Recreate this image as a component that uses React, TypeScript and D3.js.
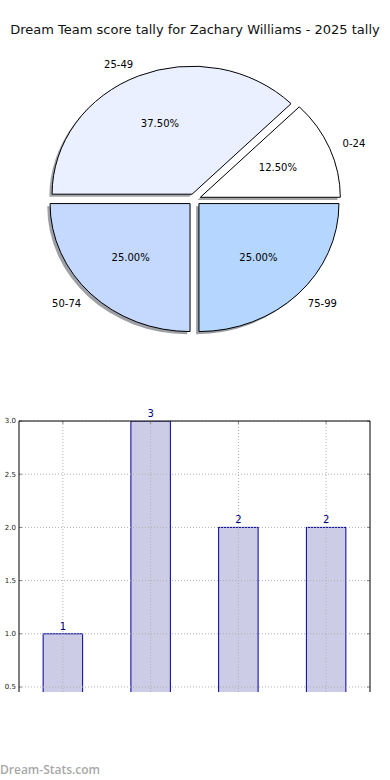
import { useEffect, useRef } from "react";
import * as d3 from "d3";

const TITLE = "Dream Team score tally for Zachary Williams - 2025 tally";

// Pie data
const pieLabels = ["0-24", "25-49", "50-74", "75-99"];
const pieValues = [1, 3, 2, 2];
const pieColors = ["#ffffff", "#eaf0ff", "#c5d9ff", "#b4d6ff"];

// Bar data
const barCategories = ["0-24", "25-49", "50-74", "75-99"];
const barValues = [1, 3, 2, 2];
const yTicks = [0.5, 1.0, 1.5, 2.0, 2.5, 3.0];

const W = 390;
const H = 780;

export default function App() {
  const svgRef = useRef<SVGSVGElement>(null);

  useEffect(() => {
    if (!svgRef.current) return;
    const svg = d3.select(svgRef.current);
    svg.selectAll("*").remove();

    const font = "'DejaVu Sans', sans-serif";

    svg
      .append("rect")
      .attr("width", W)
      .attr("height", H)
      .attr("fill", "#fff");

    // Titre
    svg
      .append("text")
      .attr("x", 195)
      .attr("y", 34)
      .attr("text-anchor", "middle")
      .style("font-family", font)
      .style("font-size", "13px")
      .style("fill", "#111")
      .text(TITLE);

    // ---- Camembert (ellipse, éclaté, avec ombre) ----
    const cx = 194.5;
    const cy = 199.5;
    const rx = 140;
    const ry = 128;
    const explode = 0.045;
    const total = d3.sum(pieValues);

    const data = pieLabels.map((label, i) => ({
      label,
      value: pieValues[i],
      color: pieColors[i],
    }));

    // angles matplotlib : départ à 0 (3 h), sens antihoraire
    let acc = 0;
    const slices = data.map((d) => {
      const a0 = (acc / total) * 2 * Math.PI;
      acc += d.value;
      const a1 = (acc / total) * 2 * Math.PI;
      return { ...d, a0, a1, mid: (a0 + a1) / 2 };
    });

    // conversion vers les angles de d3.arc (0 en haut, sens horaire)
    const toD3 = (a: number) => Math.PI / 2 - a;
    const arc = d3.arc<any>().innerRadius(0).outerRadius(1);

    const pieG = svg.append("g");

    const drawSlice = (
      s: (typeof slices)[number],
      ox: number,
      oy: number,
      fill: string,
      stroke: string | null,
      opacity: number
    ) => {
      const ex = cx + explode * rx * Math.cos(s.mid) + ox;
      const ey = cy - explode * ry * Math.sin(s.mid) + oy;
      pieG
        .append("path")
        .attr("transform", `translate(${ex},${ey}) scale(${rx},${ry})`)
        .attr("d", arc({ startAngle: toD3(s.a1), endAngle: toD3(s.a0) }) || "")
        .attr("fill", fill)
        .attr("fill-opacity", opacity)
        .attr("stroke", stroke || "none")
        .attr("stroke-width", 1)
        .attr("vector-effect", "non-scaling-stroke");
    };

    // ombres
    slices.forEach((s) => {
      const c = d3.color(s.color)!.rgb();
      const shadow = d3.rgb(c.r * 0.3, c.g * 0.3, c.b * 0.3).toString();
      drawSlice(s, -2.8, 2.6, shadow, null, 0.5);
    });
    // portions
    slices.forEach((s) => drawSlice(s, 0, 0, s.color, "#000", 1));

    // étiquettes
    slices.forEach((s) => {
      const ex = cx + explode * rx * Math.cos(s.mid);
      const ey = cy - explode * ry * Math.sin(s.mid);
      const lx = ex + 1.1 * rx * Math.cos(s.mid);
      const ly = ey - 1.1 * ry * Math.sin(s.mid);
      pieG
        .append("text")
        .attr("x", lx)
        .attr("y", ly)
        .attr("dy", "0.35em")
        .attr("text-anchor", Math.cos(s.mid) > 0 ? "start" : "end")
        .style("font-family", font)
        .style("font-size", "10px")
        .style("fill", "#000")
        .text(s.label);

      const px = ex + 0.6 * rx * Math.cos(s.mid);
      const py = ey - 0.6 * ry * Math.sin(s.mid);
      pieG
        .append("text")
        .attr("x", px)
        .attr("y", py)
        .attr("dy", "0.35em")
        .attr("text-anchor", "middle")
        .style("font-family", font)
        .style("font-size", "10px")
        .style("fill", "#000")
        .text(((s.value / total) * 100).toFixed(2) + "%");
    });

    // ---- Histogramme ----
    const left = 19;
    const right = 370;
    const top = 421;
    const bottom = 692;

    const x = d3
      .scaleLinear()
      .domain([-0.5, barCategories.length - 0.5])
      .range([left, right]);
    const y = d3.scaleLinear().domain([0.5, 3.0]).range([687, top]);
    const barW = 0.45 * (x(1) - x(0));

    svg
      .append("clipPath")
      .attr("id", "plot-clip")
      .append("rect")
      .attr("x", left)
      .attr("y", top)
      .attr("width", right - left)
      .attr("height", bottom - top);

    const plot = svg.append("g").attr("clip-path", "url(#plot-clip)");

    plot
      .selectAll("rect.bar")
      .data(barValues)
      .enter()
      .append("rect")
      .attr("class", "bar")
      .attr("x", (_d, i) => x(i) - barW / 2)
      .attr("y", (d) => y(d))
      .attr("width", barW)
      .attr("height", (d) => y(0) - y(d))
      .attr("fill", "#ccccE6")
      .attr("stroke", "#000099")
      .attr("stroke-width", 1);

    // grille
    plot
      .selectAll("line.hgrid")
      .data(yTicks)
      .enter()
      .append("line")
      .attr("x1", left)
      .attr("x2", right)
      .attr("y1", (d) => y(d))
      .attr("y2", (d) => y(d))
      .attr("stroke", "#b0b0b0")
      .attr("stroke-width", 1)
      .attr("stroke-dasharray", "1,2");

    plot
      .selectAll("line.vgrid")
      .data(barCategories)
      .enter()
      .append("line")
      .attr("x1", (_d, i) => x(i))
      .attr("x2", (_d, i) => x(i))
      .attr("y1", top)
      .attr("y2", bottom)
      .attr("stroke", "#b0b0b0")
      .attr("stroke-width", 1)
      .attr("stroke-dasharray", "1,2");

    // graduations (vers l'intérieur)
    yTicks.forEach((t) => {
      svg
        .append("line")
        .attr("x1", left)
        .attr("x2", left + 3)
        .attr("y1", y(t))
        .attr("y2", y(t))
        .attr("stroke", "#888");
      svg
        .append("line")
        .attr("x1", right - 3)
        .attr("x2", right)
        .attr("y1", y(t))
        .attr("y2", y(t))
        .attr("stroke", "#888");
      svg
        .append("text")
        .attr("x", left - 3)
        .attr("y", y(t))
        .attr("dy", "0.35em")
        .attr("text-anchor", "end")
        .style("font-family", font)
        .style("font-size", "7px")
        .style("fill", "#222")
        .text(t.toFixed(1));
    });
    barCategories.forEach((_c, i) => {
      svg
        .append("line")
        .attr("x1", x(i))
        .attr("x2", x(i))
        .attr("y1", top)
        .attr("y2", top + 3)
        .attr("stroke", "#888");
    });

    // cadre (sans bas, coupé)
    svg
      .append("path")
      .attr("d", `M${left},${bottom}V${top}H${right}V${bottom}`)
      .attr("fill", "none")
      .attr("stroke", "#000")
      .attr("stroke-width", 1);

    // valeurs au-dessus des barres
    svg
      .selectAll("text.val")
      .data(barValues)
      .enter()
      .append("text")
      .attr("class", "val")
      .attr("x", (_d, i) => x(i))
      .attr("y", (d) => y(d) - 4)
      .attr("text-anchor", "middle")
      .style("font-family", font)
      .style("font-size", "10px")
      .style("fill", "#000080")
      .text((d) => d);

    // filigrane
    svg
      .append("text")
      .attr("x", 0)
      .attr("y", 774)
      .style("font-family", "'Open Sans', 'DejaVu Sans', sans-serif")
      .style("font-size", "12px")
      .style("font-weight", "600")
      .style("fill", "#a8a8a8")
      .text("Dream-Stats.com");
  }, []);

  return (
    <svg
      ref={svgRef}
      width={W}
      height={H}
      style={{ position: "absolute", left: 0, top: 0 }}
    />
  );
}
